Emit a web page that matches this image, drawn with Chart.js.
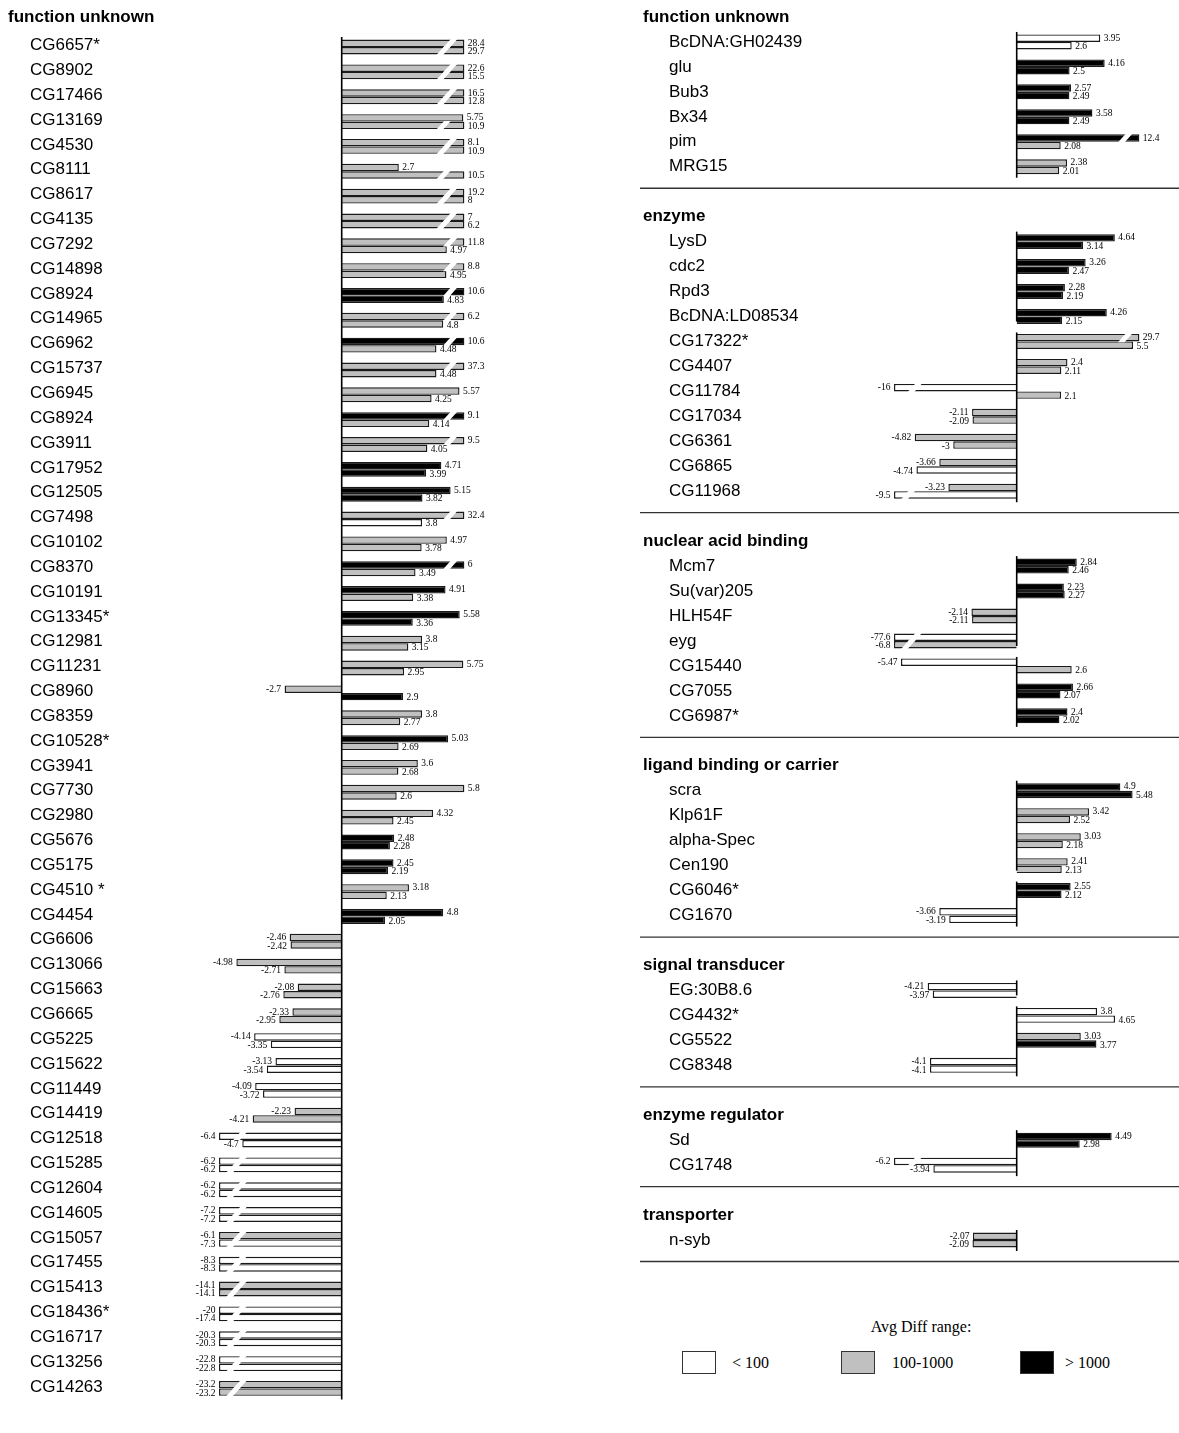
<!DOCTYPE html>
<html>
<head>
<meta charset="utf-8">
<title>Fold changes by functional class</title>
<script src="https://cdn.jsdelivr.net/npm/chart.js@4.4.1/dist/chart.umd.min.js"></script>
<style>
  html, body { margin: 0; padding: 0; background: #fff; }
  body { width: 1179px; height: 1433px; position: relative; overflow: hidden; }
  #leftWrap { position: absolute; left: 0; top: 0; width: 520px; height: 1410px; }
  #rightWrap { position: absolute; left: 635px; top: 0; width: 544px; height: 1270px; }
  .lg { position: absolute; font-family: 'Liberation Serif', 'Times New Roman', serif; font-size: 16px; color: #000; line-height: 18px; white-space: nowrap; }
  .sw { position: absolute; box-sizing: border-box; border: 1.5px solid #333; }
</style>
</head>
<body>
<div id="leftWrap"><canvas id="leftChart"></canvas></div>
<div id="rightWrap"><canvas id="rightChart"></canvas></div>
<div id="legend"></div>
<script>
// Avg Diff range classes: 0 = < 100, 1 = 100-1000, 2 = > 1000
const rangeLabels = ['< 100', '100-1000', '> 1000'];
const rangeColors = ['#ffffff', '#c0c0c0', '#000000'];
const legendTitle = 'Avg Diff range:';
// bars longer than this are cut and drawn with a break mark
const CLIP = 5.8;

// ---- left column: function unknown ----
const leftTitle = 'function unknown';
const leftGenes = ['CG6657*', 'CG8902', 'CG17466', 'CG13169', 'CG4530', 'CG8111', 'CG8617', 'CG4135', 'CG7292', 'CG14898',
  'CG8924', 'CG14965', 'CG6962', 'CG15737', 'CG6945', 'CG8924', 'CG3911', 'CG17952', 'CG12505', 'CG7498',
  'CG10102', 'CG8370', 'CG10191', 'CG13345*', 'CG12981', 'CG11231', 'CG8960', 'CG8359', 'CG10528*', 'CG3941',
  'CG7730', 'CG2980', 'CG5676', 'CG5175', 'CG4510 *', 'CG4454', 'CG6606', 'CG13066', 'CG15663', 'CG6665',
  'CG5225', 'CG15622', 'CG11449', 'CG14419', 'CG12518', 'CG15285', 'CG12604', 'CG14605', 'CG15057', 'CG17455',
  'CG15413', 'CG18436*', 'CG16717', 'CG13256', 'CG14263'];
const leftTop = [28.4, 22.6, 16.5, 5.75, 8.1, 2.7, 19.2, 7, 11.8, 8.8,
  10.6, 6.2, 10.6, 37.3, 5.57, 9.1, 9.5, 4.71, 5.15, 32.4,
  4.97, 6, 4.91, 5.58, 3.8, 5.75, -2.7, 3.8, 5.03, 3.6,
  5.8, 4.32, 2.48, 2.45, 3.18, 4.8, -2.46, -4.98, -2.08, -2.33,
  -4.14, -3.13, -4.09, -2.23, -6.4, -6.2, -6.2, -7.2, -6.1, -8.3,
  -14.1, -20, -20.3, -22.8, -23.2];
const leftBottom = [29.7, 15.5, 12.8, 10.9, 10.9, 10.5, 8, 6.2, 4.97, 4.95,
  4.83, 4.8, 4.48, 4.48, 4.25, 4.14, 4.05, 3.99, 3.82, 3.8,
  3.78, 3.49, 3.38, 3.36, 3.15, 2.95, 2.9, 2.77, 2.69, 2.68,
  2.6, 2.45, 2.28, 2.19, 2.13, 2.05, -2.42, -2.71, -2.76, -2.95,
  -3.35, -3.54, -3.72, -4.21, -4.7, -6.2, -6.2, -7.2, -7.3, -8.3,
  -14.1, -17.4, -20.3, -22.8, -23.2];
const leftTopRange = [1, 1, 1, 1, 1, 1, 1, 1, 1, 1,
  2, 1, 2, 1, 1, 2, 1, 2, 2, 1,
  1, 2, 2, 2, 1, 1, 1, 1, 2, 1,
  1, 1, 2, 2, 1, 2, 1, 1, 1, 1,
  0, 0, 0, 1, 0, 0, 0, 0, 1, 0,
  1, 0, 0, 0, 1];
const leftBottomRange = [1, 1, 1, 1, 1, 1, 1, 1, 1, 1,
  2, 1, 1, 1, 1, 1, 1, 2, 2, 0,
  1, 1, 1, 2, 1, 1, 2, 1, 1, 1,
  1, 1, 2, 2, 1, 2, 1, 1, 1, 1,
  0, 0, 0, 1, 0, 0, 0, 0, 0, 0,
  1, 0, 0, 0, 1];

// ---- right column ----
const rightTitles = ['function unknown', 'enzyme', 'nuclear acid binding', 'ligand binding or carrier',
  'signal transducer', 'enzyme regulator', 'transporter'];

const fnGenes = ['BcDNA:GH02439', 'glu', 'Bub3', 'Bx34', 'pim', 'MRG15'];
const fnTop = [3.95, 4.16, 2.57, 3.58, 12.4, 2.38];
const fnBottom = [2.6, 2.5, 2.49, 2.49, 2.08, 2.01];
const fnTopRange = [0, 2, 2, 2, 2, 1];
const fnBottomRange = [0, 2, 2, 2, 1, 1];

const enzGenes = ['LysD', 'cdc2', 'Rpd3', 'BcDNA:LD08534', 'CG17322*', 'CG4407', 'CG11784', 'CG17034', 'CG6361', 'CG6865', 'CG11968'];
const enzTop = [4.64, 3.26, 2.28, 4.26, 29.7, 2.4, -16, -2.11, -4.82, -3.66, -3.23];
const enzBottom = [3.14, 2.47, 2.19, 2.15, 5.5, 2.11, 2.1, -2.09, -3, -4.74, -9.5];
const enzTopRange = [2, 2, 2, 2, 1, 1, 0, 1, 1, 1, 1];
const enzBottomRange = [2, 2, 2, 2, 1, 1, 1, 1, 1, 0, 0];

const nabGenes = ['Mcm7', 'Su(var)205', 'HLH54F', 'eyg', 'CG15440', 'CG7055', 'CG6987*'];
const nabTop = [2.84, 2.23, -2.14, -77.6, -5.47, 2.66, 2.4];
const nabBottom = [2.46, 2.27, -2.11, -6.8, 2.6, 2.07, 2.02];
const nabTopRange = [2, 2, 1, 0, 0, 2, 2];
const nabBottomRange = [2, 2, 1, 1, 1, 2, 2];

const ligGenes = ['scra', 'Klp61F', 'alpha-Spec', 'Cen190', 'CG6046*', 'CG1670'];
const ligTop = [4.9, 3.42, 3.03, 2.41, 2.55, -3.66];
const ligBottom = [5.48, 2.52, 2.18, 2.13, 2.12, -3.19];
const ligTopRange = [2, 1, 1, 1, 2, 0];
const ligBottomRange = [2, 1, 1, 1, 2, 0];

const sigGenes = ['EG:30B8.6', 'CG4432*', 'CG5522', 'CG8348'];
const sigTop = [-4.21, 3.8, 3.03, -4.1];
const sigBottom = [-3.97, 4.65, 3.77, -4.1];
const sigTopRange = [0, 0, 1, 0];
const sigBottomRange = [0, 0, 2, 0];

const regGenes = ['Sd', 'CG1748'];
const regTop = [4.49, -6.2];
const regBottom = [2.98, -3.94];
const regTopRange = [2, 0];
const regBottomRange = [2, 0];

const trnGenes = ['n-syb'];
const trnTop = [-2.07];
const trnBottom = [-2.09];
const trnTopRange = [1];
const trnBottomRange = [1];

// the zero line is interrupted after these rows
const axisSplitAfter = ['BcDNA:LD08534', 'eyg', 'Cen190', 'EG:30B8.6'];

const SANS = "'Liberation Sans', Arial, sans-serif";
const SERIF = "'Liberation Serif', 'Times New Roman', serif";

function group(title, genes, top, bottom, topRange, bottomRange) {
  return { title, genes, top, bottom, topRange, bottomRange };
}

// one row per header, gene and spacer
function buildRows(groups) {
  const rows = [];
  groups.forEach((g, gi) => {
    if (gi > 0) rows.push({ kind: 'blank', text: '' });
    rows.push({ kind: 'head', text: g.title });
    g.genes.forEach((name, i) => rows.push({
      kind: 'gene', text: name, group: gi,
      top: g.top[i], bottom: g.bottom[i],
      topRange: g.topRange[i], bottomRange: g.bottomRange[i]
    }));
  });
  return rows;
}

const clamp = v => Math.max(-CLIP, Math.min(CLIP, v));

// zero line, break marks, value labels and group separators
function makeDecor(rows, geo) {
  return {
    id: 'decor',
    afterDatasetsDraw(chart) {
      const ctx = chart.ctx;
      const xs = chart.scales.x, ys = chart.scales.yName;
      const x0 = xs.getPixelForValue(0);
      const metas = [chart.getDatasetMeta(0), chart.getDatasetMeta(1)];
      const keys = ['top', 'bottom'];
      const p = i => ys.getPixelForValue(i);
      ctx.save();

      // break marks on cut bars
      rows.forEach((r, i) => {
        if (r.kind !== 'gene') return;
        const yc = p(i);
        keys.forEach((k, d) => {
          const v = r[k];
          if (Math.abs(v) <= CLIP) return;
          const el = metas[d].data[i];
          const sgn = v > 0 ? 1 : -1;
          const xc = el.x - sgn * 17.5;
          const y1 = el.y - el.height / 2 - 0.7, y2 = el.y + el.height / 2 + 0.7;
          const xa = xc - 0.9 * (y1 - yc), xb = xc - 0.9 * (y2 - yc);
          ctx.fillStyle = '#ffffff';
          ctx.beginPath();
          ctx.moveTo(xa - 3.3, y1); ctx.lineTo(xa + 3.3, y1);
          ctx.lineTo(xb + 3.3, y2); ctx.lineTo(xb - 3.3, y2);
          ctx.closePath(); ctx.fill();
        });
      });

      // zero line, one run per group
      ctx.strokeStyle = '#000'; ctx.lineWidth = 1.6;
      const runs = [];
      rows.forEach((r, i) => {
        if (r.kind !== 'gene') return;
        const last = runs[runs.length - 1];
        if (last && last.group === r.group) last.b = i; else runs.push({ group: r.group, a: i, b: i });
      });
      const seg = (ya, yb) => { ctx.beginPath(); ctx.moveTo(x0, ya); ctx.lineTo(x0, yb); ctx.stroke(); };
      runs.forEach(run => {
        let top = p(run.a) - 10;
        for (let j = run.a; j < run.b; j++) {
          if (axisSplitAfter.includes(rows[j].text)) {
            seg(top, p(j) + 5);
            top = p(j + 1) - 9;
          }
        }
        seg(top, p(run.b) + 11);
      });

      // value labels
      ctx.font = '9.5px ' + SERIF;
      ctx.textBaseline = 'middle';
      ctx.textAlign = 'left';
      rows.forEach((r, i) => {
        if (r.kind !== 'gene') return;
        keys.forEach((k, d) => {
          const v = r[k];
          const el = metas[d].data[i];
          const txt = String(v);
          const w = ctx.measureText(txt).width;
          const tx = v >= 0 ? el.x + 3.5 : el.x - 3.5 - w;
          const ty = el.y + (d === 0 ? -0.5 : 0.5);
          ctx.fillStyle = '#ffffff';
          ctx.fillRect(tx - 1, ty - 3.5, w + 2, 7);
          ctx.fillStyle = '#000';
          ctx.fillText(txt, tx, ty + 0.5);
        });
      });

      // separators between groups
      if (geo.separators) {
        ctx.strokeStyle = '#333'; ctx.lineWidth = 1.3;
        runs.forEach(run => {
          const y = p(run.b) + 21.5;
          ctx.beginPath(); ctx.moveTo(geo.sepX, y); ctx.lineTo(chart.width, y); ctx.stroke();
        });
      }
      ctx.restore();
    }
  };
}

function makeChart(canvasId, rows, geo) {
  const dataset = (key, rkey) => ({
    label: key,
    data: rows.map(r => r.kind === 'gene' ? clamp(r[key]) : null),
    backgroundColor: rows.map(r => r.kind === 'gene' ? rangeColors[r[rkey]] : 'rgba(0,0,0,0)'),
    borderColor: '#1a1a1a',
    borderWidth: 1.4,
    yAxisID: 'yName',
    xAxisID: 'x',
    categoryPercentage: 0.6,
    barPercentage: 1.0
  });
  return new Chart(document.getElementById(canvasId), {
    type: 'bar',
    data: {
      labels: rows.map(r => r.text),
      datasets: [dataset('top', 'topRange'), dataset('bottom', 'bottomRange')]
    },
    options: {
      indexAxis: 'y',
      responsive: true,
      maintainAspectRatio: false,
      animation: false,
      devicePixelRatio: 1,
      events: [],
      layout: {
        autoPadding: false,
        padding: { left: 8, right: geo.padRight, top: geo.padTop, bottom: geo.padBottom }
      },
      plugins: { legend: { display: false }, tooltip: { enabled: false }, title: { display: false } },
      scales: {
        x: { type: 'linear', min: -6, max: 6, display: false },
        // group headings: mirrored so they start at the outer edge and are not clipped
        yHead: {
          type: 'category', position: 'left', weight: 1, offset: true,
          grid: { display: false }, border: { display: false },
          ticks: {
            autoSkip: false, mirror: true, crossAlign: 'near', padding: -geo.headWidth,
            labelOffset: geo.headOffset, color: '#000',
            font: { family: SANS, size: 17, weight: 'bold', lineHeight: 0.4 },
            callback: (v, i) => rows[i].kind === 'head' ? rows[i].text : ''
          },
          afterFit: s => { s.width = geo.headWidth; }
        },
        yName: {
          type: 'category', position: 'left', weight: 0, offset: true,
          grid: { display: false }, border: { display: false },
          ticks: {
            autoSkip: false, crossAlign: 'far', padding: 0, labelOffset: geo.nameOffset, color: '#000',
            font: { family: SANS, size: 17, lineHeight: 0.4 },
            callback: (v, i) => rows[i].kind === 'gene' ? rows[i].text : ''
          },
          afterFit: s => { s.width = geo.nameWidth; }
        }
      }
    },
    plugins: [makeDecor(rows, geo)]
  });
}

const leftRows = buildRows([group(leftTitle, leftGenes, leftTop, leftBottom, leftTopRange, leftBottomRange)]);
const rightRows = buildRows([
  group(rightTitles[0], fnGenes, fnTop, fnBottom, fnTopRange, fnBottomRange),
  group(rightTitles[1], enzGenes, enzTop, enzBottom, enzTopRange, enzBottomRange),
  group(rightTitles[2], nabGenes, nabTop, nabBottom, nabTopRange, nabBottomRange),
  group(rightTitles[3], ligGenes, ligTop, ligBottom, ligTopRange, ligBottomRange),
  group(rightTitles[4], sigGenes, sigTop, sigBottom, sigTopRange, sigBottomRange),
  group(rightTitles[5], regGenes, regTop, regBottom, regTopRange, regBottomRange),
  group(rightTitles[6], trnGenes, trnTop, trnBottom, trnTopRange, trnBottomRange)
]);

makeChart('leftChart', leftRows, {
  padTop: 9.8, padBottom: 9.16, padRight: 51.4,
  headWidth: 22, nameWidth: 184.8, headOffset: -5, nameOffset: -1.5,
  separators: false, sepX: 0
});
makeChart('rightChart', rightRows, {
  padTop: 4.5, padBottom: 17.5, padRight: 35.4,
  headWidth: 26, nameWidth: 220.8, headOffset: 0, nameOffset: 0,
  separators: true, sepX: 5
});

// legend for the three Avg Diff ranges
(function buildLegend() {
  const box = document.getElementById('legend');
  const t = document.createElement('div');
  t.className = 'lg';
  t.style.left = '821px'; t.style.top = '1318px'; t.style.width = '200px'; t.style.textAlign = 'center';
  t.textContent = legendTitle;
  box.appendChild(t);
  const swLeft = [682, 841, 1020], txtLeft = [732, 892, 1065];
  rangeLabels.forEach((lab, k) => {
    const s = document.createElement('div');
    s.className = 'sw';
    s.style.left = swLeft[k] + 'px'; s.style.top = '1351px';
    s.style.width = '34px'; s.style.height = '23px';
    s.style.background = rangeColors[k];
    box.appendChild(s);
    const l = document.createElement('div');
    l.className = 'lg';
    l.style.left = txtLeft[k] + 'px'; l.style.top = '1354px';
    l.textContent = lab;
    box.appendChild(l);
  });
})();
</script>
</body>
</html>
